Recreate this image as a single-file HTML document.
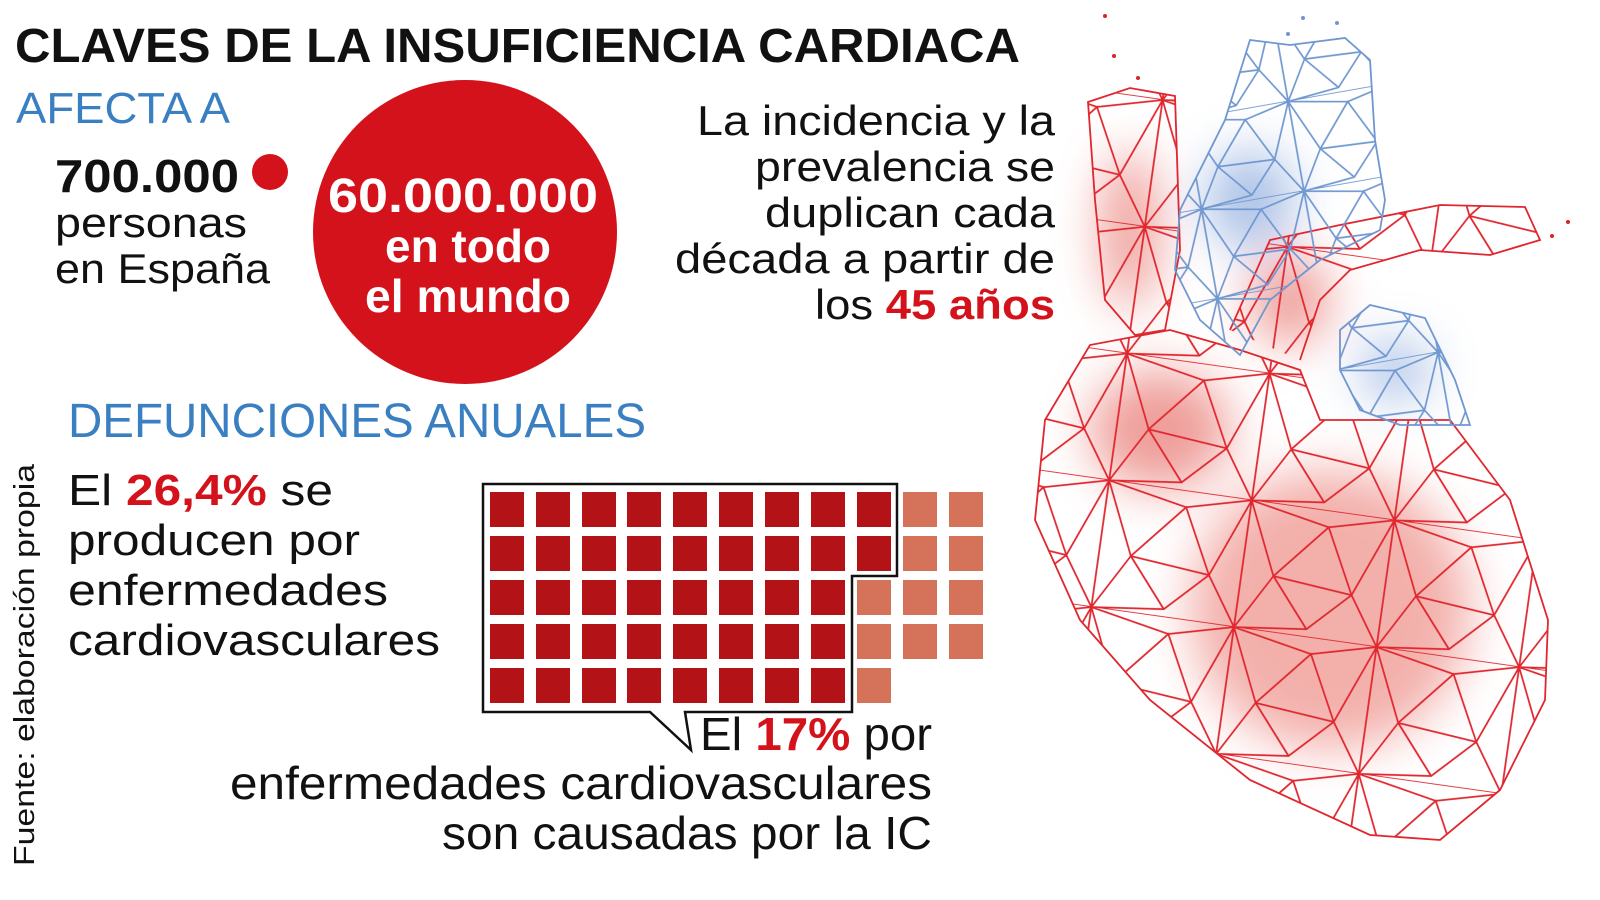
<!DOCTYPE html>
<html><head><meta charset="utf-8"><style>
html,body{margin:0;padding:0;background:#fff;}
svg{display:block}
text{font-family:"Liberation Sans",sans-serif;}
</style></head><body>
<svg width="1600" height="900" viewBox="0 0 1600 900" xmlns="http://www.w3.org/2000/svg">
<defs>
<filter id="bl" x="-50%" y="-50%" width="200%" height="200%"><feGaussianBlur stdDeviation="24"/></filter>
<pattern id="mr" width="90" height="80" patternUnits="userSpaceOnUse" patternTransform="translate(1020,80) scale(1.6) rotate(8)">
<path d="M0 0 L50 10 L90 0 M0 0 L20 45 L50 10 L70 50 L90 0 M20 45 L70 50 M20 45 L0 80 L45 75 L70 50 L90 80 M45 75 L20 45 M0 80 L90 80 M0 0 L0 80 M90 0 L90 80" fill="none" stroke="#e0262e" stroke-width="1.1"/>
</pattern>
<pattern id="mb" width="80" height="70" patternUnits="userSpaceOnUse" patternTransform="translate(1170,30) scale(1.3) rotate(-10)">
<path d="M0 0 L45 8 L80 0 M0 0 L18 40 L45 8 L62 42 L80 0 M18 40 L62 42 M18 40 L0 70 L40 66 L62 42 L80 70 M40 66 L18 40 M0 70 L80 70 M0 0 L0 70 M80 0 L80 70" fill="none" stroke="#6f97d0" stroke-width="1.3"/>
</pattern>
<clipPath id="cr">
<path d="M1088 102 L1130 88 L1175 96 L1180 250 L1165 330 L1135 335 L1105 300 L1095 200 Z"/>
<path d="M1230 330 L1270 240 L1340 225 L1440 205 L1525 207 L1540 240 L1490 255 L1420 250 L1350 270 L1320 300 L1300 360 Z"/>
<path d="M1045 420 L1090 345 L1170 330 L1240 350 L1300 370 L1320 420 L1450 420 L1510 500 L1548 620 L1545 700 L1500 790 L1440 840 L1370 835 L1250 780 L1150 700 L1080 620 L1035 520 Z"/>
</clipPath>
<clipPath id="cb">
<path d="M1180 210 L1225 120 L1250 40 L1290 45 L1345 38 L1370 60 L1375 140 L1385 200 L1380 230 L1320 260 L1270 300 L1240 355 L1200 320 L1175 270 Z"/>
<path d="M1340 330 L1370 305 L1425 318 L1455 380 L1470 425 L1400 425 L1360 410 L1340 370 Z"/>
</clipPath>
</defs>

<g filter="url(#bl)" opacity="0.7">
<ellipse cx="1130" cy="230" rx="28" ry="80" fill="#e8766f"/>
<ellipse cx="1290" cy="300" rx="40" ry="45" fill="#e8766f"/>
<ellipse cx="1160" cy="430" rx="70" ry="60" fill="#e8766f"/>
<ellipse cx="1330" cy="610" rx="140" ry="140" fill="#ee8f88"/>
<ellipse cx="1250" cy="200" rx="45" ry="50" fill="#8aa9dd"/>
<ellipse cx="1395" cy="370" rx="35" ry="30" fill="#8aa9dd"/>
</g>
<g clip-path="url(#cr)">
<rect x="1000" y="60" width="600" height="820" fill="url(#mr)"/>
</g>
<g fill="none" stroke="#e0262e" stroke-width="1.8">
<path d="M1088 102 L1130 88 L1175 96 L1180 250 L1165 330 L1135 335 L1105 300 L1095 200 Z"/>
<path d="M1230 330 L1270 240 L1340 225 L1440 205 L1525 207 L1540 240 L1490 255 L1420 250 L1350 270 L1320 300 L1300 360"/>
<path d="M1045 420 L1090 345 L1170 330 L1240 350 L1300 370 L1320 420 L1450 420 L1510 500 L1548 620 L1545 700 L1500 790 L1440 840 L1370 835 L1250 780 L1150 700 L1080 620 L1035 520 Z"/>
</g>
<g clip-path="url(#cb)">
<rect x="1150" y="20" width="350" height="420" fill="url(#mb)"/>
</g>
<g fill="none" stroke="#6f97d0" stroke-width="1.8">
<path d="M1180 210 L1225 120 L1250 40 L1290 45 L1345 38 L1370 60 L1375 140 L1385 200 L1380 230 L1320 260 L1270 300 L1240 355 L1200 320 L1175 270 Z"/>
<path d="M1340 330 L1370 305 L1425 318 L1455 380 L1470 425 L1400 425 L1360 410 L1340 370 Z"/>
</g>
<g fill="#d4262c"><circle cx="1105" cy="16" r="2"/><circle cx="1114" cy="56" r="2"/><circle cx="1138" cy="78" r="2"/><circle cx="1568" cy="222" r="2"/><circle cx="1552" cy="236" r="2"/></g>
<g fill="#6f97d0"><circle cx="1288" cy="34" r="2"/><circle cx="1303" cy="18" r="2"/><circle cx="1337" cy="23" r="2"/></g>

<text x="15" y="62" font-size="48" font-weight="bold" fill="#111" textLength="1005" lengthAdjust="spacingAndGlyphs">CLAVES DE LA INSUFICIENCIA CARDIACA</text>
<text x="16" y="123" font-size="44" fill="#3a7fc1" textLength="214" lengthAdjust="spacingAndGlyphs">AFECTA A</text>
<text x="55" y="192" font-size="46" font-weight="bold" fill="#111" textLength="184" lengthAdjust="spacingAndGlyphs">700.000</text>
<circle cx="270" cy="172" r="18" fill="#d4121b"/>
<text x="55" y="237" font-size="42" fill="#111" textLength="192" lengthAdjust="spacingAndGlyphs">personas</text>
<text x="55" y="283" font-size="42" fill="#111" textLength="215" lengthAdjust="spacingAndGlyphs">en España</text>
<circle cx="465" cy="232" r="152" fill="#d4121b"/>
<g font-weight="bold" fill="#fff" text-anchor="middle">
<text x="463" y="212" font-size="48" textLength="270" lengthAdjust="spacingAndGlyphs">60.000.000</text>
<text x="468" y="262" font-size="46" textLength="166" lengthAdjust="spacingAndGlyphs">en todo</text>
<text x="468" y="312" font-size="46" textLength="206" lengthAdjust="spacingAndGlyphs">el mundo</text>
</g>
<g font-size="42" fill="#111" text-anchor="end">
<text x="1055" y="135" textLength="358" lengthAdjust="spacingAndGlyphs">La incidencia y la</text>
<text x="1055" y="181" textLength="300" lengthAdjust="spacingAndGlyphs">prevalencia se</text>
<text x="1055" y="227" textLength="290" lengthAdjust="spacingAndGlyphs">duplican cada</text>
<text x="1055" y="273" textLength="380" lengthAdjust="spacingAndGlyphs">década a partir de</text>
<text x="1055" y="319" textLength="240" lengthAdjust="spacingAndGlyphs">los <tspan font-weight="bold" fill="#d4121b">45 años</tspan></text>
</g>

<text x="68" y="437" font-size="48" fill="#3a7fc1" textLength="578" lengthAdjust="spacingAndGlyphs">DEFUNCIONES ANUALES</text>
<g font-size="44" fill="#111">
<text x="68" y="505" textLength="265" lengthAdjust="spacingAndGlyphs">El <tspan font-weight="bold" fill="#d4121b">26,4%</tspan> se</text>
<text x="68" y="555" textLength="292" lengthAdjust="spacingAndGlyphs">producen por</text>
<text x="68" y="605" textLength="320" lengthAdjust="spacingAndGlyphs">enfermedades</text>
<text x="68" y="655" textLength="372" lengthAdjust="spacingAndGlyphs">cardiovasculares</text>
</g>
<text transform="translate(34,866) rotate(-90)" font-size="29" fill="#111" textLength="402" lengthAdjust="spacingAndGlyphs">Fuente: elaboración propia</text>

<g fill="#b31316">
<g id="r1"><rect x="490" y="492" width="34" height="35"/><rect x="536" y="492" width="34" height="35"/><rect x="582" y="492" width="34" height="35"/><rect x="627" y="492" width="34" height="35"/><rect x="673" y="492" width="34" height="35"/><rect x="719" y="492" width="34" height="35"/><rect x="765" y="492" width="34" height="35"/><rect x="811" y="492" width="34" height="35"/></g>
<use href="#r1" y="44"/><use href="#r1" y="88"/><use href="#r1" y="132"/><use href="#r1" y="176"/>
<rect x="857" y="492" width="34" height="35"/><rect x="857" y="536" width="34" height="35"/>
</g>
<g fill="#d4735a">
<rect x="903" y="492" width="34" height="35"/><rect x="949" y="492" width="34" height="35"/>
<rect x="903" y="536" width="34" height="35"/><rect x="949" y="536" width="34" height="35"/>
<rect x="857" y="580" width="34" height="35"/><rect x="903" y="580" width="34" height="35"/><rect x="949" y="580" width="34" height="35"/>
<rect x="857" y="624" width="34" height="35"/><rect x="903" y="624" width="34" height="35"/><rect x="949" y="624" width="34" height="35"/>
<rect x="857" y="668" width="34" height="35"/>
</g>
<path d="M483 484 L897 484 L897 576 L852 576 L852 712 L685 712 L691 750 L650 712 L483 712 Z" fill="none" stroke="#111" stroke-width="2.5"/>

<g font-size="46" fill="#111" text-anchor="end">
<text x="932" y="750" textLength="232" lengthAdjust="spacingAndGlyphs">El <tspan font-weight="bold" fill="#d4121b">17%</tspan> por</text>
<text x="932" y="799" textLength="702" lengthAdjust="spacingAndGlyphs">enfermedades cardiovasculares</text>
<text x="932" y="849" textLength="490" lengthAdjust="spacingAndGlyphs">son causadas por la IC</text>
</g>
</svg>
</body></html>
